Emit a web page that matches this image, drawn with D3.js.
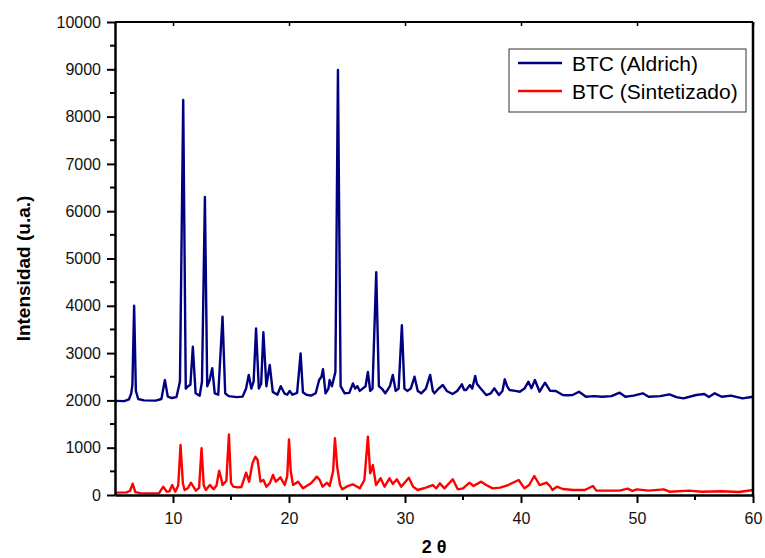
<!DOCTYPE html>
<html>
<head>
<meta charset="utf-8">
<script src="https://cdn.jsdelivr.net/npm/d3@7"></script>
<style>
  body { margin: 0; background: #fff; }
  svg { display: block; font-family: Arial, "Liberation Sans", sans-serif; }
  .tick text { font-size: 16px; fill: #111; }
  .axis-title { font-weight: bold; fill: #000; }
  .legend-text { font-size: 21px; fill: #000; }
</style>
</head>
<body>
<div id="chart"></div>
<script>
// 2θ / intensity readings, BTC (Aldrich)
const aldrichTheta = [5.0, 5.8, 6.2, 6.4, 6.5, 6.65, 6.8, 7.0, 7.5, 8.5, 9.0, 9.3, 9.55, 9.9, 10.3, 10.6, 10.88, 11.1, 11.3, 11.5,
  11.71, 11.95, 12.3, 12.5, 12.75, 12.95, 13.15, 13.38, 13.6, 13.9, 14.27, 14.5, 14.8, 15.5, 16.0, 16.3, 16.53, 16.75, 16.95, 17.16,
  17.4, 17.6, 17.79, 18.05, 18.34, 18.6, 19.0, 19.29, 19.6, 19.85, 20.06, 20.3, 20.7, 21.0, 21.2, 21.5, 21.9, 22.3, 22.6, 22.8,
  22.93, 23.15, 23.4, 23.5, 23.7, 24.0, 24.22, 24.45, 24.8, 25.2, 25.51, 25.7, 25.9, 26.1, 26.4, 26.6, 26.8, 27.0, 27.2, 27.52,
  27.75, 28.0, 28.3, 28.7, 28.95, 29.2, 29.45, 29.73, 29.95, 30.2, 30.5, 30.82, 31.1, 31.4, 31.8, 32.17, 32.4, 32.54, 32.9, 33.26,
  33.6, 34.1, 34.5, 34.9, 35.1, 35.27, 35.6, 35.8, 36.05, 36.2, 36.4, 37.0, 37.4, 37.7, 38.1, 38.4, 38.6, 38.8, 39.0, 39.5,
  39.9, 40.3, 40.64, 40.9, 41.2, 41.6, 42.07, 42.5, 43.0, 43.6, 44.0, 44.45, 45.0, 45.6, 46.3, 47.0, 47.8, 48.5, 49.0, 49.7,
  50.5, 51.0, 52.0, 52.8, 53.4, 54.0, 55.1, 55.8, 56.2, 56.7, 57.3, 58.1, 59.1, 60.0];
const aldrichIntensity = [1990, 1985, 2020, 2150, 2330, 4000, 2200, 2030, 2000, 1995, 2030, 2430, 2080, 2050, 2070, 2400, 8350, 2250, 2300, 2330,
  3135, 2150, 2100, 2400, 6300, 2300, 2420, 2680, 2150, 2120, 3770, 2150, 2090, 2070, 2080, 2250, 2540, 2250, 2400, 3520,
  2250, 2350, 3440, 2300, 2750, 2180, 2120, 2300, 2150, 2120, 2200, 2120, 2160, 2995, 2170, 2120, 2100, 2150, 2430, 2500,
  2660, 2150, 2250, 2430, 2300, 2600, 8985, 2300, 2150, 2160, 2360, 2250, 2300, 2200, 2260, 2300, 2600, 2200, 2250, 4710,
  2300, 2250, 2150, 2300, 2540, 2200, 2250, 3590, 2250, 2200, 2250, 2500, 2200, 2150, 2250, 2540, 2200, 2150, 2250, 2325,
  2200, 2135, 2200, 2340, 2220, 2220, 2325, 2250, 2515, 2350, 2290, 2114, 2150, 2255, 2114, 2200, 2446, 2300, 2220, 2200,
  2184, 2250, 2395, 2255, 2431, 2184, 2374, 2205, 2200, 2114, 2110, 2114, 2184, 2078, 2090, 2078, 2090, 2163, 2078, 2100,
  2150, 2078, 2090, 2128, 2070, 2043, 2114, 2135, 2070, 2150, 2078, 2100, 2043, 2078];

// 2θ / intensity readings, BTC (Sintetizado)
const sintTheta = [5.0, 6.0, 6.3, 6.52, 6.75, 7.2, 8.0, 8.8, 9.16, 9.45, 9.7, 9.93, 10.2, 10.45, 10.65, 10.85, 11.0, 11.3, 11.54, 11.97,
  12.25, 12.46, 12.65, 12.83, 13.18, 13.5, 13.75, 13.98, 14.15, 14.27, 14.6, 14.82, 15.0, 15.2, 15.6, 15.9, 16.3, 16.56, 16.85, 17.1,
  17.3, 17.54, 17.8, 18.05, 18.35, 18.62, 18.86, 19.26, 19.63, 19.85, 20.0, 20.15, 20.35, 20.78, 21.2, 21.9, 22.4, 22.65, 22.9, 23.28,
  23.5, 23.8, 23.96, 24.15, 24.4, 24.6, 25.0, 25.5, 26.1, 26.5, 26.8, 27.0, 27.23, 27.5, 27.9, 28.24, 28.66, 28.95, 29.3, 29.67,
  30.33, 30.7, 31.1, 31.8, 32.4, 32.7, 33.0, 33.4, 34.12, 34.55, 35.0, 35.56, 35.9, 36.57, 37.0, 37.56, 38.2, 38.9, 39.8, 40.3,
  40.7, 41.15, 41.6, 42.2, 42.5, 42.7, 43.1, 43.6, 44.5, 45.5, 46.2, 46.5, 47.6, 48.5, 49.2, 49.6, 50.0, 51.0, 52.3, 52.8,
  54.5, 55.6, 57.3, 58.8, 60.0];
const sintIntensity = [50, 55, 90, 240, 60, 40, 35, 40, 176, 70, 80, 211, 70, 200, 1057, 250, 106, 150, 260, 91,
  150, 987, 200, 106, 211, 120, 200, 514, 350, 211, 300, 1280, 250, 176, 160, 170, 472, 282, 670, 810,
  740, 282, 317, 176, 250, 423, 282, 374, 211, 400, 1177, 500, 211, 282, 141, 247, 388, 317, 176, 260,
  190, 500, 1200, 600, 211, 120, 180, 226, 141, 317, 1233, 458, 634, 211, 353, 176, 353, 233, 332, 176,
  366, 176, 106, 155, 211, 141, 247, 141, 332, 120, 141, 260, 190, 282, 211, 141, 155, 211, 317, 141,
  211, 402, 211, 260, 190, 106, 176, 127, 106, 106, 190, 92, 92, 92, 134, 85, 120, 92, 120, 70,
  92, 70, 78, 63, 106];

const seriesNames = ["BTC (Aldrich)", "BTC (Sintetizado)"];
const seriesColors = ["#000080", "#ff0000"];
const xMajorTicks = [10, 20, 30, 40, 50, 60];
const xMinorTicks = [15, 25, 35, 45, 55];
const yMajorTicks = [0, 1000, 2000, 3000, 4000, 5000, 6000, 7000, 8000, 9000, 10000];
const yMinorTicks = [500, 1500, 2500, 3500, 4500, 5500, 6500, 7500, 8500, 9500];

const width = 765;
const height = 558;
const margin = { top: 22, right: 12, bottom: 63, left: 115 };

const x = d3.scaleLinear().domain([5, 60]).range([margin.left, width - margin.right]);
const y = d3.scaleLinear().domain([0, 10000]).range([height - margin.bottom, margin.top]);

const svg = d3.select("#chart")
  .append("svg")
  .attr("width", width)
  .attr("height", height);

const line = d3.line()
  .x((d) => x(d[0]))
  .y((d) => y(d[1]));

const series = [
  d3.zip(aldrichTheta, aldrichIntensity),
  d3.zip(sintTheta, sintIntensity),
];

// curves
series.forEach((pts, i) => {
  svg.append("path")
    .attr("d", line(pts))
    .attr("fill", "none")
    .attr("stroke", seriesColors[i])
    .attr("stroke-width", 2.4)
    .attr("stroke-linejoin", "round");
});

// frame: top and right
svg.append("line")
  .attr("x1", margin.left).attr("x2", width - margin.right)
  .attr("y1", margin.top).attr("y2", margin.top)
  .attr("stroke", "#000").attr("stroke-width", 1.8);
svg.append("line")
  .attr("x1", width - margin.right).attr("x2", width - margin.right)
  .attr("y1", margin.top).attr("y2", height - margin.bottom)
  .attr("stroke", "#000").attr("stroke-width", 2.5);

// top marks
svg.append("g")
  .attr("transform", `translate(0,${margin.top})`)
  .call(d3.axisTop(x).tickValues(xMajorTicks).tickSize(-4).tickFormat(""))
  .call((g) => g.select(".domain").remove())
  .call((g) => g.selectAll("line").attr("stroke-width", 1.5));

// x axis
const xAxis = svg.append("g")
  .attr("transform", `translate(0,${height - margin.bottom})`);
xAxis.call(d3.axisBottom(x).tickValues(xMajorTicks).tickFormat(d3.format("d")).tickSize(8).tickPadding(10).tickSizeOuter(0))
  .call((g) => g.select(".domain").attr("stroke-width", 2.5))
  .call((g) => g.selectAll(".tick line").attr("stroke-width", 2));
xAxis.selectAll(".minor")
  .data(xMinorTicks)
  .enter()
  .append("line")
  .attr("x1", (d) => x(d)).attr("x2", (d) => x(d))
  .attr("y1", 0).attr("y2", 5)
  .attr("stroke", "#000").attr("stroke-width", 2);

// y axis
const yAxis = svg.append("g")
  .attr("transform", `translate(${margin.left},0)`);
yAxis.call(d3.axisLeft(y).tickValues(yMajorTicks).tickFormat(d3.format("d")).tickSize(8).tickPadding(6).tickSizeOuter(0))
  .call((g) => g.select(".domain").attr("stroke-width", 2.5))
  .call((g) => g.selectAll(".tick line").attr("stroke-width", 2));
yAxis.selectAll(".minor")
  .data(yMinorTicks)
  .enter()
  .append("line")
  .attr("x1", -5).attr("x2", 0)
  .attr("y1", (d) => y(d)).attr("y2", (d) => y(d))
  .attr("stroke", "#000").attr("stroke-width", 2);

// axis titles
svg.append("text")
  .attr("class", "axis-title")
  .attr("text-anchor", "middle")
  .attr("font-size", 19)
  .attr("transform", `translate(30,${y(5000) + 10}) rotate(-90)`)
  .text("Intensidad (u.a.)");

svg.append("text")
  .attr("class", "axis-title")
  .attr("text-anchor", "middle")
  .attr("font-size", 18)
  .attr("x", x(32.5))
  .attr("y", height - 5)
  .text("2 θ");

// legend
const legend = svg.append("g").attr("transform", "translate(509,49)");
legend.append("rect")
  .attr("width", 237)
  .attr("height", 63)
  .attr("fill", "#fff")
  .attr("stroke", "#333")
  .attr("stroke-width", 1);

seriesNames.forEach((name, i) => {
  const g = legend.append("g").attr("transform", `translate(0,${14 + i * 28})`);
  g.append("line")
    .attr("x1", 9).attr("x2", 53)
    .attr("y1", 0).attr("y2", 0)
    .attr("stroke", seriesColors[i])
    .attr("stroke-width", 2.4);
  g.append("text")
    .attr("class", "legend-text")
    .attr("x", 63)
    .attr("y", 8)
    .text(name);
});
</script>
</body>
</html>
